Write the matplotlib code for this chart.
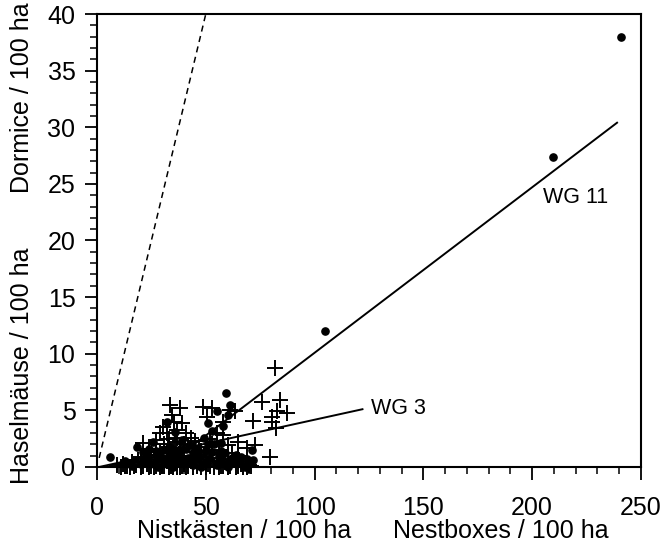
import matplotlib
matplotlib.use("Agg")
import matplotlib.pyplot as plt
from matplotlib.ticker import MultipleLocator

plt.rcParams['font.family'] = ['Liberation Sans', 'DejaVu Sans']

# Haselmäuse (Kreuze)
cross_x = [81.8, 84.1, 75.8, 71.7, 80.4, 82.7, 87.3, 80.4, 82.3, 79.5, 72.6, 68.9, 64.8,
           48.7, 52.8, 50.5, 57.9, 61.1, 63.4, 33.5, 38.1, 34.5, 39.0, 30.3, 32.2, 29.0,
           21.1, 35.5, 37, 41, 43, 33, 36, 40, 45, 27, 31, 24, 47, 52, 55, 58, 56, 60,
           62, 53, 49, 44, 38, 34, 29, 26, 22, 19, 16, 12, 9, 14, 18, 23, 28, 32, 36,
           40, 43, 47, 51, 55, 59, 63, 66, 70, 31, 37, 42, 57, 25, 45, 35, 39,
           11, 13, 15, 17, 20, 21, 24, 26, 27, 29, 30, 33, 34, 35, 38, 39, 41, 44,
           46, 48, 50, 52, 54, 56, 58, 60, 61, 64, 65, 67, 69, 71,
           20, 25, 30, 35, 40, 45, 50, 55, 60, 65, 33, 37, 42, 48, 53]
cross_y = [8.7, 5.9, 5.7, 4.1, 4.4, 4.9, 4.8, 4.0, 3.4, 0.9, 1.9, 1.7, 2.2,
           5.3, 5.2, 4.4, 4.0, 5.0, 4.9, 5.5, 5.2, 4.6, 3.9, 3.5, 3.0, 3.0,
           2.1, 4.0, 3.3, 3.0, 2.6, 2.5, 2.2, 2.0, 2.3, 2.4, 2.0, 1.6, 1.8, 2.5, 3.0, 2.8, 1.5, 1.9,
           1.2, 1.2, 0.9, 1.3, 1.5, 1.0, 1.3, 0.9, 0.8, 0.6, 0.4, 0.3, 0.2, 0.1, 0.2, 0.3, 0.4, 0.5, 0.6,
           0.3, 0.5, 0.4, 0.3, 0.5, 0.4, 0.6, 0.3, 0.2, 0.1, 0.0, 0.1, 0.1, 0.1, 0.7, 1.7, 0.9,
           0.0, 0.1, 0.0, 0.1, 0.0, 0.1, 0.0, 0.0, 0.1, 0.0, 0.1, 0.0, 0.1, 0.0, 0.0, 0.1, 0.0, 0.0,
           0.1, 0.0, 0.0, 0.1, 0.0, 0.0, 0.1, 0.0, 0.1, 0.0, 0.1, 0.0, 0.0, 0.1,
           0.9, 1.1, 0.8, 1.2, 1.0, 0.9, 1.1, 0.8, 0.7, 1.0, 1.8, 2.6, 1.9, 1.4, 2.0]

# Siebenschläfer (Punkte)
dot_x = [59.3, 61.1, 55.1, 51, 60.2, 71.2, 71.7, 68, 25.7, 18.4, 21, 6, 104.8, 209.6, 240.8,
         58, 57, 59, 56, 54, 50, 46, 42, 38, 34, 30, 27, 24, 20, 16, 13, 28, 33, 37, 41,
         44, 48, 52, 55, 60, 62, 65, 69, 35, 23, 31, 39, 45, 53, 49, 36, 32,
         22, 26, 29, 32, 35, 38, 41, 44, 47, 50, 53, 56, 59, 62, 66, 70,
         24, 28, 33, 37, 43, 47, 51, 57, 61, 64, 67]
dot_y = [6.5, 5.5, 4.9, 3.9, 4.6, 1.5, 0.6, 0.0, 2.2, 1.8, 1.3, 0.9, 12.0, 27.4, 38.0,
         3.6, 2.1, 1.2, 0.6, 2.0, 1.5, 1.0, 0.8, 0.4, 0.2, 0.7, 1.4, 0.5, 0.3, 0.1, 0.5, 0.0, 0.9, 1.2, 1.6,
         0.2, 0.0, 0.7, 0.2, 0.0, 0.8, 0.4, 0.7, 0.0, 1.0, 1.5, 2.4, 1.7, 3.2, 2.6, 3.1, 4.0,
         0.6, 0.3, 1.0, 0.3, 0.8, 1.6, 0.5, 1.2, 0.7, 0.4, 1.3, 1.0, 0.3, 0.5, 0.9, 0.3,
         1.6, 0.9, 1.8, 0.6, 1.9, 1.3, 2.0, 1.4, 0.6, 1.1, 0.2]

# Regressionsgeraden
wg11_x = [31, 239]
wg11_y = [0.0, 30.4]
wg3_x = [1, 122]
wg3_y = [0.0, 5.1]
ref_x = [1, 50]
ref_y = [0.8, 40]

fig = plt.figure(figsize=(6.67, 5.47), dpi=100)
ax = fig.add_axes([0.1454, 0.1463, 0.8156, 0.8281])

ax.plot(cross_x, cross_y, linestyle='none', marker='+', markersize=11,
        markeredgewidth=1.4, color='black', clip_on=False)
ax.plot(dot_x, dot_y, linestyle='none', marker='o', markersize=5.2, color='black',
        clip_on=False)

ax.plot(wg11_x, wg11_y, color='black', lw=1.4)
ax.plot(wg3_x, wg3_y, color='black', lw=1.4)
ax.plot(ref_x, ref_y, color='black', lw=1.1, linestyle=(0, (4, 3)))

ax.text(205, 23.8, 'WG 11', fontsize=15.5, va='center', ha='left')
ax.text(126, 5.2, 'WG 3', fontsize=15.5, va='center', ha='left')

ax.set_xlim(0, 250)
ax.set_ylim(0, 40)
ax.xaxis.set_major_locator(MultipleLocator(50))
ax.xaxis.set_minor_locator(MultipleLocator(10))
ax.yaxis.set_major_locator(MultipleLocator(5))
ax.yaxis.set_minor_locator(MultipleLocator(1))
ax.tick_params(which='major', direction='out', length=9, width=1.3, labelsize=18,
               top=False, right=False)
ax.tick_params(which='minor', direction='out', length=5, width=1.1,
               top=False, right=False)
ax.tick_params(axis='x', which='major', pad=12)
ax.tick_params(axis='y', which='major', pad=6.5)
for s in ax.spines.values():
    s.set_linewidth(1.5)

fig.text(0.366, 0.029, 'Nistkästen / 100 ha', fontsize=18, ha='center', va='center')
fig.text(0.751, 0.029, 'Nestboxes / 100 ha', fontsize=18, ha='center', va='center')
fig.text(0.033, 0.332, 'Haselmäuse / 100 ha', fontsize=18, ha='center', va='center',
         rotation=90)
fig.text(0.033, 0.822, 'Dormice / 100 ha', fontsize=18, ha='center', va='center',
         rotation=90)

fig.savefig('out.png', dpi=100)
